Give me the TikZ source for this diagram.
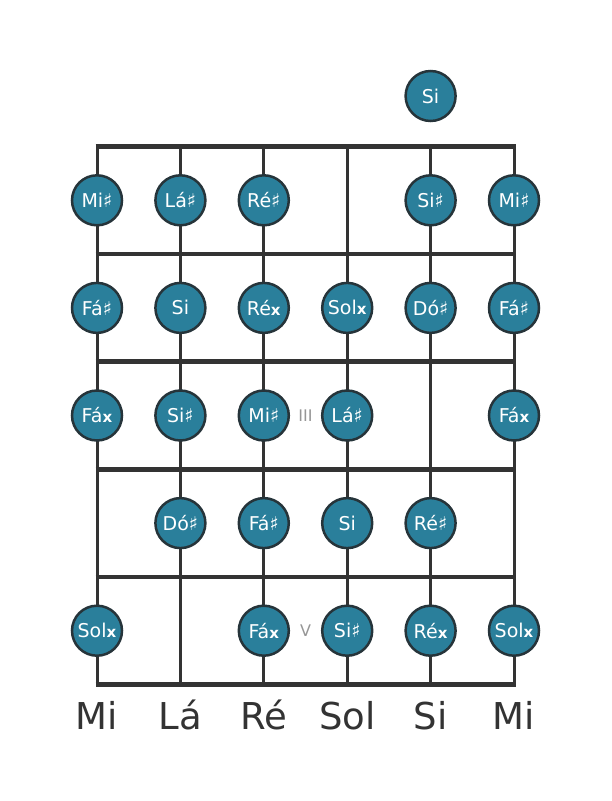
\documentclass[tikz,border=0pt]{standalone}
\usepackage{fontspec}
\setmainfont{DejaVu Sans}

\definecolor{notefill}{RGB}{42,127,155}
\definecolor{noteedge}{RGB}{38,52,58}
\definecolor{linegray}{RGB}{51,51,51}
\definecolor{markgray}{RGB}{150,150,150}

\newcommand{\dblsharp}{{\fontsize{15}{15}\selectfont\bfseries x}}

\tikzset{
  note/.style={circle, draw=noteedge, fill=notefill, line width=2.5pt,
    minimum size=50pt, inner sep=0pt, text=white,
    font=\fontsize{19}{19}\selectfont},
  fretline/.style={line width=4.5pt, draw=linegray},
  gtrstring/.style={line width=3pt, draw=linegray},
  fretmark/.style={text=markgray, font=\fontsize{16}{16}\selectfont},
  strname/.style={anchor=base, text=linegray, font=\fontsize{37}{37}\selectfont}
}

\begin{document}
\begin{tikzpicture}[x=1pt,y=-1pt]
\useasboundingbox (0,0) rectangle (611,801);

% Drawing strings
\draw [gtrstring] (97.0,146.5) -- (97.0,684.5);%
\draw [gtrstring] (180.4,146.5) -- (180.4,684.5);%
\draw [gtrstring] (263.8,146.5) -- (263.8,684.5);%
\draw [gtrstring] (347.2,146.5) -- (347.2,684.5);%
\draw [gtrstring] (430.6,146.5) -- (430.6,684.5);%
\draw [gtrstring] (514.0,146.5) -- (514.0,684.5);%

% Drawing frets
\draw [fretline] (95.5,146.5) -- (515.5,146.5);%
\draw [fretline] (95.5,254.1) -- (515.5,254.1);%
\draw [fretline] (95.5,361.7) -- (515.5,361.7);%
\draw [fretline] (95.5,469.3) -- (515.5,469.3);%
\draw [fretline] (95.5,576.9) -- (515.5,576.9);%
\draw [fretline] (95.5,684.5) -- (515.5,684.5);%

% Open string
\node [note] (o5) at (430.6,96.0) {Si};%

% Fret 1
\node [note] (f1s1) at (97.0,200.3) {Mi♯};%
\node [note] (f1s2) at (180.4,200.3) {Lá♯};%
\node [note] (f1s3) at (263.8,200.3) {Ré♯};%
\node [note] (f1s5) at (430.6,200.3) {Si♯};%
\node [note] (f1s6) at (514.0,200.3) {Mi♯};%

% Fret 2
\node [note] (f2s1) at (97.0,307.9) {Fá♯};%
\node [note] (f2s2) at (180.4,307.9) {Si};%
\node [note] (f2s3) at (263.8,307.9) {Ré\dblsharp};%
\node [note] (f2s4) at (347.2,307.9) {Sol\dblsharp};%
\node [note] (f2s5) at (430.6,307.9) {Dó♯};%
\node [note] (f2s6) at (514.0,307.9) {Fá♯};%

% Fret 3
\node [note] (f3s1) at (97.0,415.5) {Fá\dblsharp};%
\node [note] (f3s2) at (180.4,415.5) {Si♯};%
\node [note] (f3s3) at (263.8,415.5) {Mi♯};%
\node [fretmark] (m3) at (305.5,415.5) {III};%
\node [note] (f3s4) at (347.2,415.5) {Lá♯};%
\node [note] (f3s6) at (514.0,415.5) {Fá\dblsharp};%

% Fret 4
\node [note] (f4s2) at (180.4,523.1) {Dó♯};%
\node [note] (f4s3) at (263.8,523.1) {Fá♯};%
\node [note] (f4s4) at (347.2,523.1) {Si};%
\node [note] (f4s5) at (430.6,523.1) {Ré♯};%

% Fret 5
\node [note] (f5s1) at (97.0,630.7) {Sol\dblsharp};%
\node [note] (f5s3) at (263.8,630.7) {Fá\dblsharp};%
\node [fretmark] (m5) at (305.5,630.7) {V};%
\node [note] (f5s4) at (347.2,630.7) {Si♯};%
\node [note] (f5s5) at (430.6,630.7) {Ré\dblsharp};%
\node [note] (f5s6) at (514.0,630.7) {Sol\dblsharp};%

% String names
\node [strname] (n1) at (97.0,729) {Mi};%
\node [strname] (n2) at (180.4,729) {Lá};%
\node [strname] (n3) at (263.8,729) {Ré};%
\node [strname] (n4) at (347.2,729) {Sol};%
\node [strname] (n5) at (430.6,729) {Si};%
\node [strname] (n6) at (514.0,729) {Mi};%
\end{tikzpicture}
\end{document}
